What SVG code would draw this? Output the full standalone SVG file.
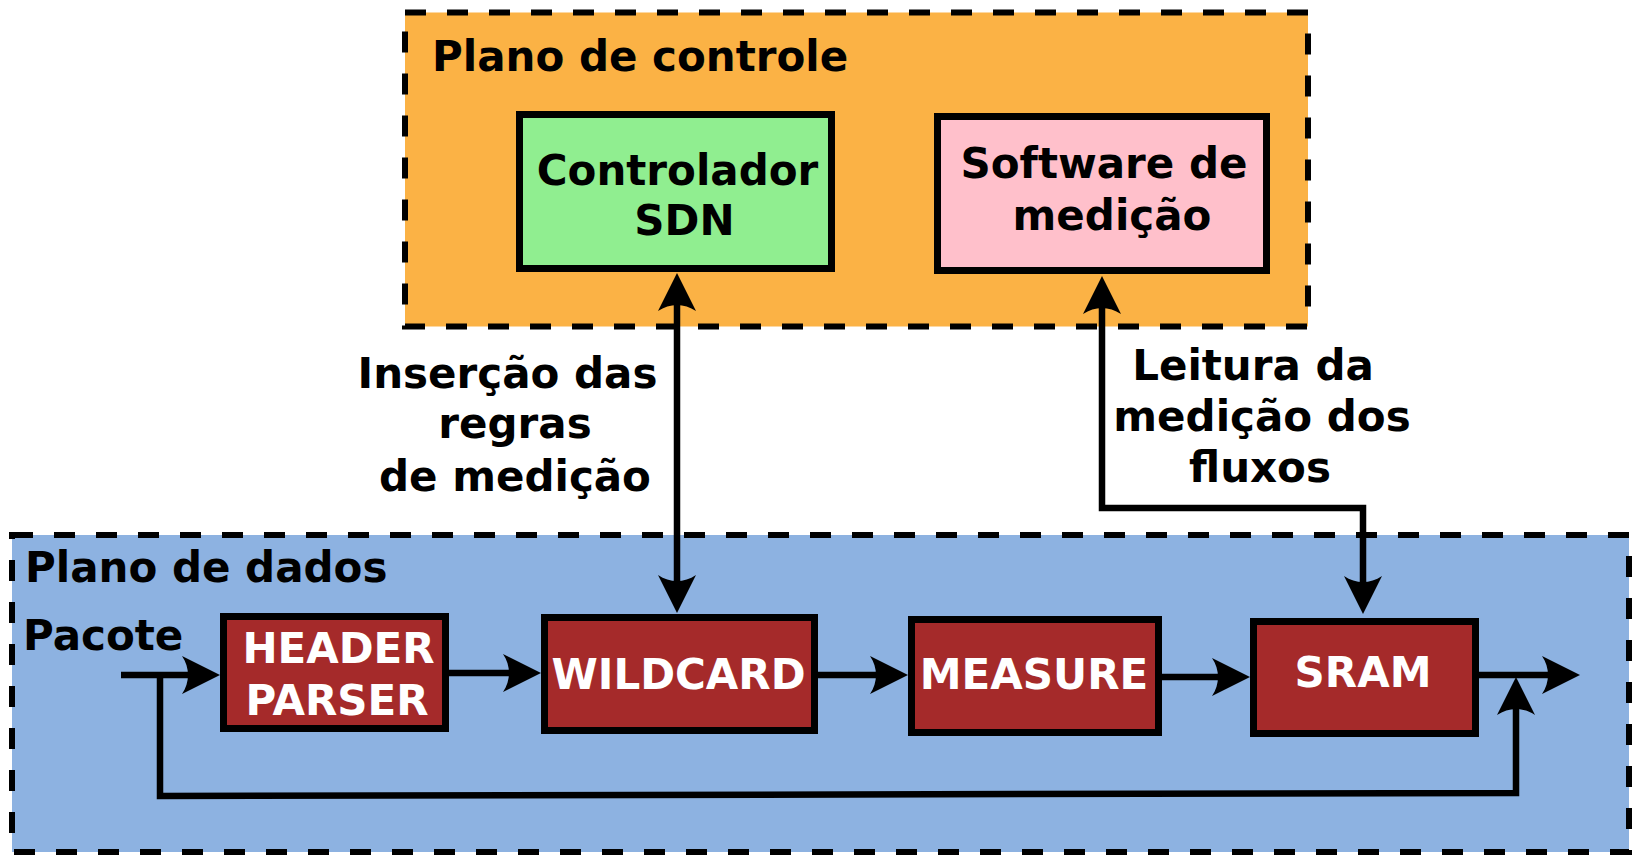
<svg xmlns="http://www.w3.org/2000/svg" width="1633" height="855" viewBox="0 0 1633 855">
<defs>
<style>
.t{font-family:"DejaVu Sans","Liberation Sans",sans-serif;font-weight:bold;font-size:42px;fill:#000}
.w{fill:#fff}
.m{text-anchor:middle}
.plane{stroke:#000;stroke-width:6;stroke-dasharray:21 21}
.box{stroke:#000;stroke-width:7}
.red{fill:#a52a2a}
.c{fill:none;stroke:#000;stroke-width:6.5}
</style>
<marker id="ah" markerUnits="userSpaceOnUse" markerWidth="80" markerHeight="80" refX="0" refY="0" viewBox="-40 -40 80 80" orient="auto-start-reverse" overflow="visible">
<path d="M24,0 L-14,-19 C-6,-7 -6,7 -14,19 Z" fill="#000"/>
</marker>
</defs>
<rect width="1633" height="855" fill="#fff"/>
<g id="plano-controle">
<rect class="plane" x="405" y="12.5" width="903" height="314" fill="#fbb245"/>
<text class="t" x="432" y="71">Plano de controle</text>
</g>
<g id="plano-dados">
<rect class="plane" x="12" y="535" width="1617" height="317" fill="#8db2e1"/>
<text class="t" x="25" y="582">Plano de dados</text>
<text class="t" x="23" y="650">Pacote</text>
</g>
<g id="controlador">
<rect class="box" x="519.5" y="114.5" width="312" height="154" fill="#90ee90"/>
<text class="t m" x="677.5" y="185">Controlador</text>
<text class="t m" x="684.5" y="235">SDN</text>
</g>
<g id="software">
<rect class="box" x="937.5" y="116.5" width="329" height="154" fill="#ffc0cb"/>
<text class="t m" x="1104" y="178">Software de</text>
<text class="t m" x="1112" y="230">medição</text>
</g>
<g id="header-parser">
<rect class="box red" x="223.5" y="616.5" width="222" height="112"/>
<text class="t w m" x="338.5" y="663">HEADER</text>
<text class="t w m" x="337" y="715">PARSER</text>
</g>
<g id="wildcard">
<rect class="box red" x="544.5" y="617.5" width="270" height="113"/>
<text class="t w m" x="678.5" y="689">WILDCARD</text>
</g>
<g id="measure">
<rect class="box red" x="911.5" y="619.5" width="247" height="113"/>
<text class="t w m" x="1034" y="689">MEASURE</text>
</g>
<g id="sram">
<rect class="box red" x="1253.5" y="621.5" width="222" height="112"/>
<text class="t w m" x="1363" y="687">SRAM</text>
</g>
<g id="labels">
<text class="t m" x="507.5" y="388">Inserção das</text>
<text class="t m" x="515" y="438">regras</text>
<text class="t m" x="515" y="491">de medição</text>
<text class="t m" x="1253" y="380">Leitura da</text>
<text class="t m" x="1262" y="431">medição dos</text>
<text class="t m" x="1260" y="482">fluxos</text>
</g>
<g id="connectors">
<path class="c" d="M121,675 H196" marker-end="url(#ah)"/>
<path class="c" d="M160,675 V796 L1516,793 V701" marker-end="url(#ah)"/>
<path class="c" d="M449,673 H517" marker-end="url(#ah)"/>
<path class="c" d="M818,675 H884" marker-end="url(#ah)"/>
<path class="c" d="M1162,677 H1226" marker-end="url(#ah)"/>
<path class="c" d="M1479,675 H1556" marker-end="url(#ah)"/>
<path class="c" d="M677,297 V589" marker-start="url(#ah)" marker-end="url(#ah)"/>
<path class="c" d="M1102,300 V508 H1363 V590" marker-start="url(#ah)" marker-end="url(#ah)"/>
</g>
</svg>
